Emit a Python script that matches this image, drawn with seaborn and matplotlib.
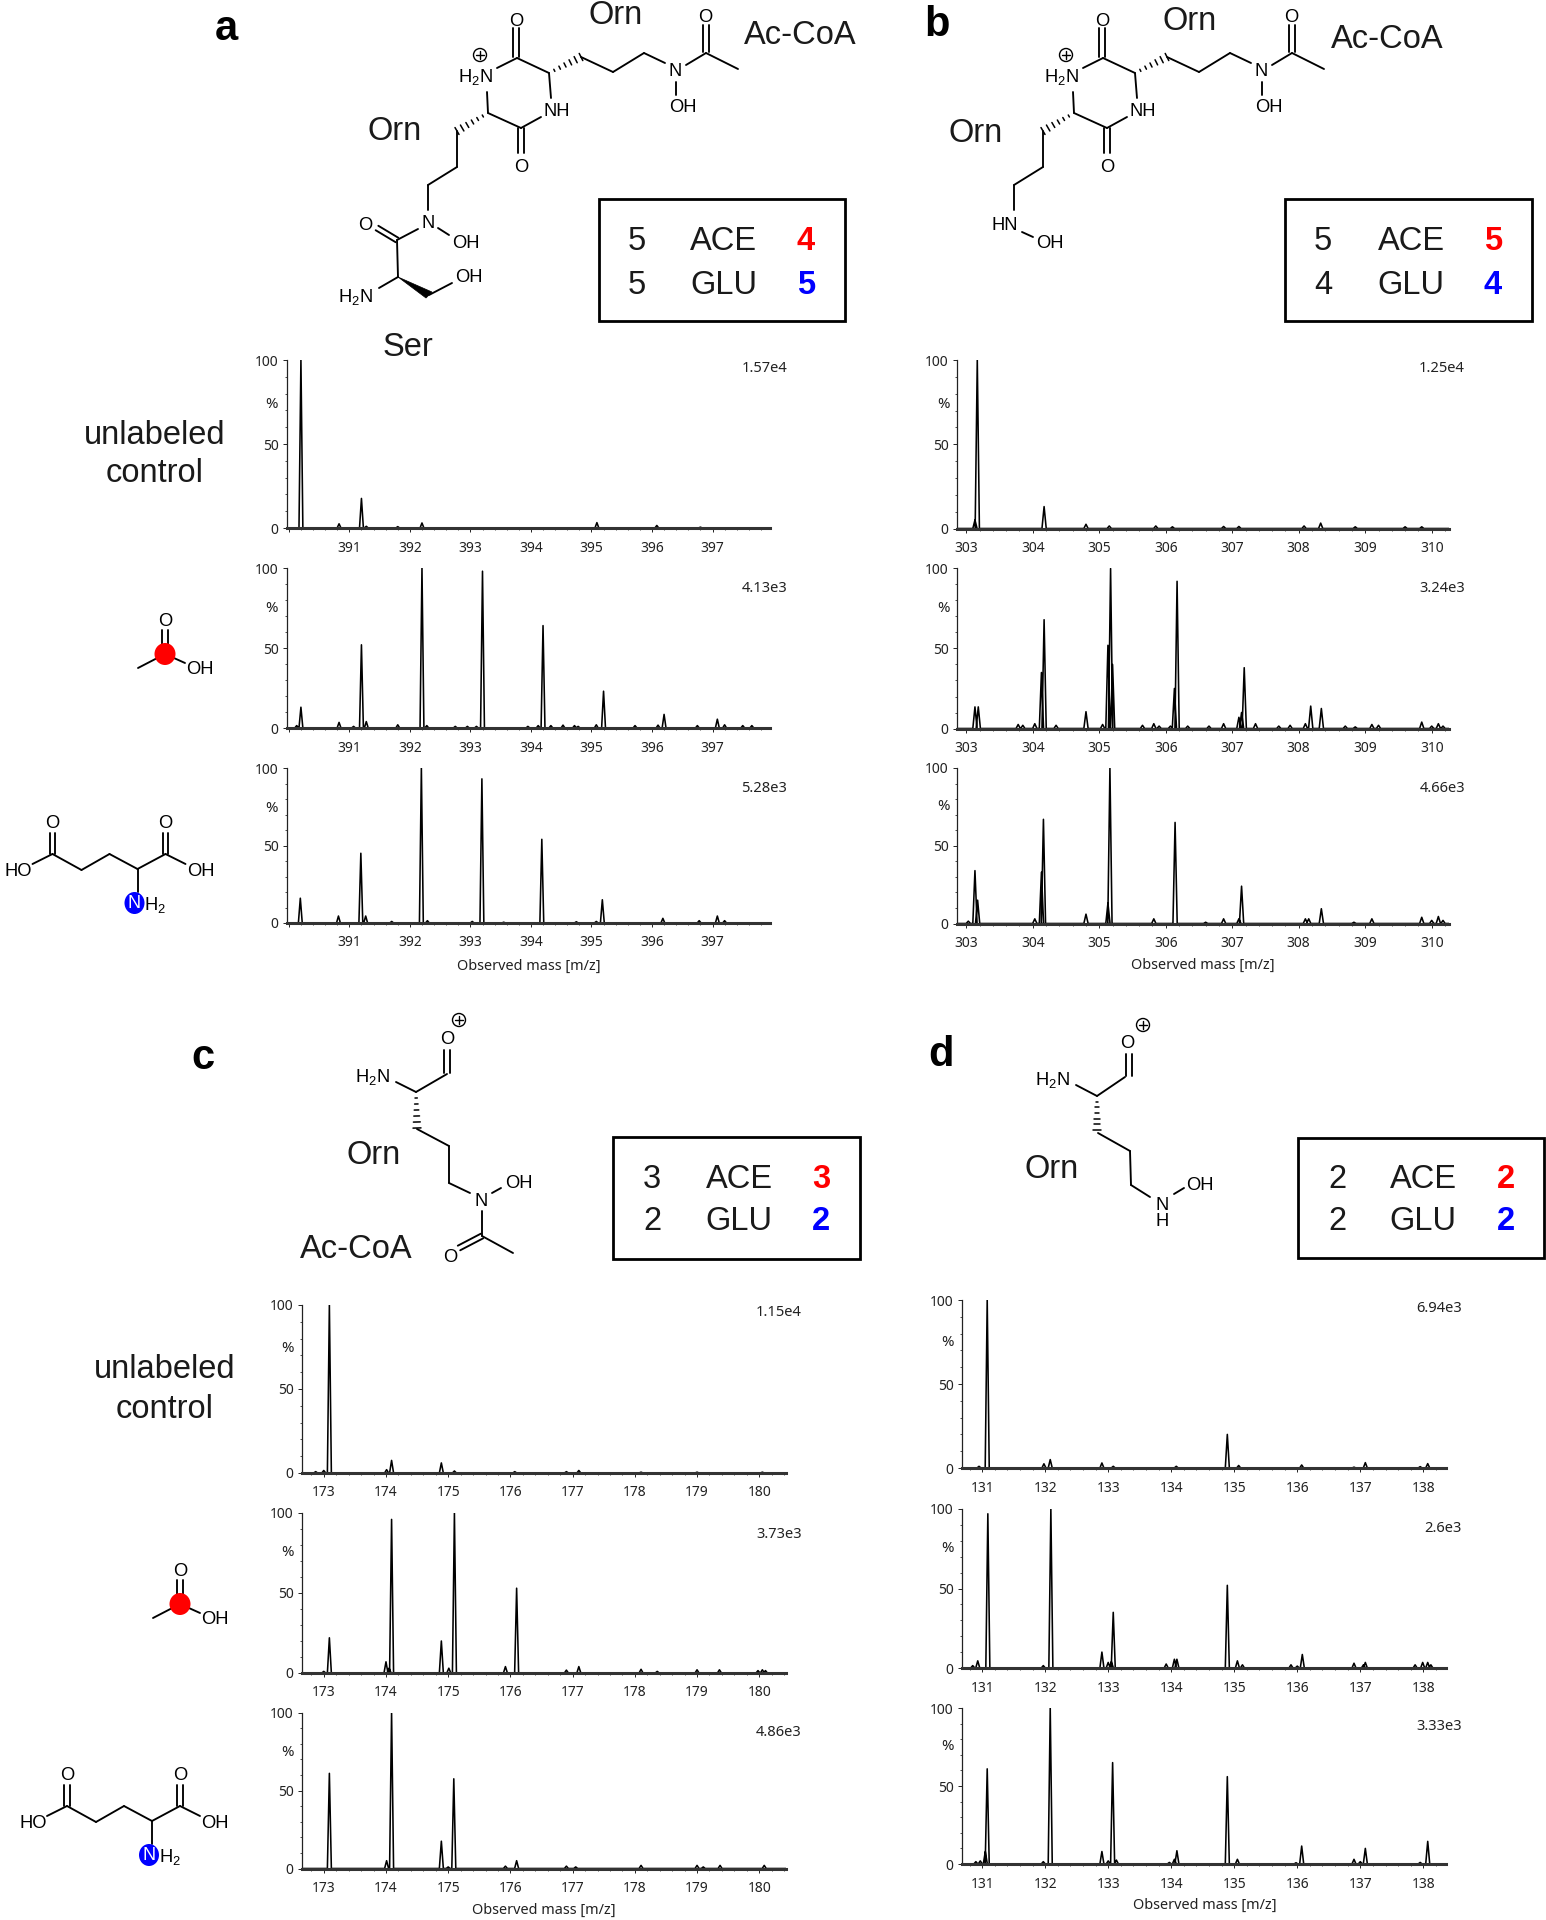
# Labelling spectra with structures, four panels
import numpy as np
import seaborn as sns
import matplotlib.pyplot as plt
from matplotlib.patches import Ellipse, Polygon, Rectangle
from matplotlib.ticker import MultipleLocator

W, H = 1546, 1920

# peak positions (m/z) and intensities (%)
a1_mz = [390.2, 390.83, 391.2, 391.28, 391.8, 392.2, 395.09, 396.08, 396.8]
a1_int = [100, 2.5, 17.6, 1, 0.8, 3, 3.2, 1.5, 0.5]
a2_mz = [390.13, 390.2, 390.83, 391.07, 391.2, 391.28, 391.8, 392.2, 392.28, 392.75, 392.95, 393.1, 393.2, 393.95,
         394.12, 394.2, 394.33, 394.53, 394.72, 394.78, 395.08, 395.2, 395.72, 396.1, 396.2, 396.75, 397.08, 397.2,
         397.5, 397.65]
a2_int = [1.5, 13, 3.5, 1, 52, 4, 2, 100, 1.5, 1, 1, 1, 98, 1, 1.5, 64, 1.5, 1.8, 1.5, 1, 2, 23, 1.5, 1.8, 8.5, 1.5,
          5.5, 2, 1.5, 1.5]
a3_mz = [390.19, 390.82, 391.19, 391.27, 391.7, 392.19, 392.29, 393.03, 393.19, 393.55, 394.18, 394.75, 395.08,
         395.18, 396.18, 396.78, 397.08, 397.2]
a3_int = [16, 4.5, 45, 4.5, 1, 100, 1.5, 1, 93, 0.5, 54, 0.8, 1, 15, 3, 1.5, 4.5, 1.5]

b1_mz = [303.13, 303.165, 304.17, 304.8, 305.15, 305.85, 306.1, 306.87, 307.1, 308.08, 308.33, 308.85, 309.6, 309.85]
b1_int = [5, 100, 13, 2.5, 1.5, 1.5, 1, 1.2, 1.2, 1.5, 3.2, 1, 1, 1]
b2_mz = [303.13, 303.18, 303.78, 303.85, 304.03, 304.13, 304.17, 304.35, 304.8, 305.05, 305.13, 305.17, 305.2,
         305.65, 305.82, 305.9, 306.07, 306.13, 306.17, 306.33, 306.65, 306.87, 307.1, 307.14, 307.18, 307.35, 307.7,
         307.87, 308.1, 308.18, 308.34, 308.7, 308.85, 309.1, 309.2, 309.85, 310.0, 310.1, 310.17]
b2_int = [13.5, 13.5, 2.5, 2, 3, 35, 68, 2, 10.5, 2.5, 52, 100, 40, 2, 3, 1.5, 1.5, 25, 92, 1.5, 1.5, 3, 7, 10, 38, 3,
          1.5, 2, 3, 14, 12.5, 1.5, 1, 2.5, 2, 4, 1.5, 3, 1.5]
b3_mz = [303.03, 303.13, 303.17, 304.03, 304.13, 304.16, 304.8, 305.13, 305.16, 305.82, 306.14, 306.6, 306.87, 307.1,
         307.14, 308.1, 308.15, 308.34, 308.83, 309.1, 309.85, 310.0, 310.1, 310.17]
b3_int = [1.5, 34, 15, 3, 33, 67, 6, 13, 100, 3, 65, 0.8, 3, 3, 24, 3, 3, 9.5, 0.8, 3, 4, 2, 4.5, 2]

c1_mz = [172.87, 173.0, 173.09, 174.01, 174.09, 174.89, 175.1, 176.07, 176.9, 177.1, 178.1, 179.0, 180.05]
c1_int = [0.8, 1.5, 100, 2, 7.5, 6, 1.2, 0.8, 0.8, 1.5, 0.5, 0.5, 0.5]
c2_mz = [173.0, 173.09, 174.0, 174.05, 174.09, 174.89, 175.01, 175.1, 175.92, 176.1, 176.9, 177.1, 178.1, 178.36,
         179.0, 179.36, 179.98, 180.05, 180.1]
c2_int = [1, 22, 7, 3, 96, 20, 3, 100, 4, 53, 1.8, 4, 2.3, 1, 2, 2, 1.5, 2, 1.5]
c3_mz = [173.09, 174.01, 174.09, 174.89, 175.0, 175.09, 175.92, 176.1, 176.9, 177.05, 178.1, 179.0, 179.1, 179.37,
         180.08]
c3_int = [61, 5, 100, 17.5, 1, 57.5, 1.5, 5, 1.5, 1, 2, 2, 1, 2, 2]

d1_mz = [130.95, 131.08, 131.98, 132.08, 132.9, 133.08, 134.08, 134.89, 135.07, 136.07, 136.9, 137.08, 137.95, 138.07]
d1_int = [1, 100, 2.5, 5, 3, 1, 1, 20, 1.5, 1.8, 0.5, 3.2, 0.8, 2.6]
d2_mz = [130.85, 130.93, 131.09, 131.97, 132.09, 132.9, 133.0, 133.05, 133.08, 133.92, 134.05, 134.09, 134.89, 135.05,
         135.13, 135.9, 136.0, 136.08, 136.9, 137.05, 137.08, 137.87, 137.99, 138.07, 138.12]
d2_int = [1.5, 4.5, 97, 1.5, 100, 10, 3.5, 4, 35, 2.5, 5.5, 5.5, 52, 4.5, 2, 2, 1.2, 8.5, 3, 2, 3.5, 2, 3.5, 3.5, 2]
d3_mz = [130.9, 130.97, 131.05, 131.08, 131.97, 132.08, 132.9, 133.0, 133.07, 133.13, 133.97, 134.05, 134.09, 134.89,
         135.05, 135.98, 136.07, 136.9, 137.0, 137.08, 137.95, 138.07]
d3_int = [1.5, 2, 8, 61, 1.5, 100, 8, 2, 65, 2.5, 1, 3, 8.5, 56, 3, 0.8, 11.5, 3, 1.5, 10, 1, 14.5]

a_scale = ['1.57e4', '4.13e3', '5.28e3']
b_scale = ['1.25e4', '3.24e3', '4.66e3']
c_scale = ['1.15e4', '3.73e3', '4.86e3']
d_scale = ['6.94e3', '2.6e3', '3.33e3']

sns.set_theme(style='ticks')
plt.rcParams['font.family'] = ['Noto Sans', 'DejaVu Sans']
plt.rcParams['mathtext.default'] = 'regular'

fig = plt.figure(figsize=(W / 100, H / 100), dpi=100, facecolor='white')


def spectrum(box, xlim, first, mz, inten, scale, label_x, label_y, pct_x, pct_y, xlabel=None):
    left, right, top, bottom = box
    ax = fig.add_axes([left / W, 1 - bottom / H, (right - left) / W, (bottom - top) / H])
    xs, ys = [xlim[0]], [0]
    for m, v in zip(mz, inten):
        xs += [m - 0.032, m, m + 0.032]
        ys += [0, v, 0]
    xs.append(xlim[1])
    ys.append(0)
    sns.lineplot(x=xs, y=ys, estimator=None, sort=False, color='black', lw=1.15, ax=ax)
    ax.set_xlim(*xlim)
    ax.set_ylim(0, 100)
    ax.patch.set_alpha(0)
    sns.despine(ax=ax)
    ax.spines['bottom'].set_linewidth(2.2)
    ax.spines['bottom'].set_color('#333333')
    ax.spines['left'].set_linewidth(0.9)
    ax.spines['left'].set_color('#222222')
    ticks = list(range(first, first + 8))
    ax.set_xticks(ticks)
    ax.set_xticklabels(['' if t == 390 else str(t) for t in ticks])
    ax.xaxis.set_minor_locator(MultipleLocator(0.2))
    ax.set_yticks([0, 50, 100])
    ax.yaxis.set_minor_locator(MultipleLocator(10))
    ax.tick_params(axis='both', which='major', length=3, width=0.7, labelsize=10, colors='#222222', pad=3)
    ax.tick_params(axis='x', which='major', pad=6)
    ax.tick_params(axis='both', which='minor', length=1.5, width=0.6, colors='#333333')
    ax.set_xlabel('')
    ax.set_ylabel('')
    over.text(label_x, label_y + 1, scale, ha='right', va='center', fontsize=10.6, color='#222222')
    over.text(pct_x, pct_y + 1, '%', ha='center', va='center', fontsize=10.8, color='#222222')
    if xlabel is not None:
        over.text(xlabel[0], xlabel[1], 'Observed mass [m/z]', ha='center', va='center', fontsize=10.4, color='#222222')


# overlay in picture pixels for the drawn structures and big labels
over = fig.add_axes([0, 0, 1, 1], zorder=5)
over.set_xlim(0, W)
over.set_ylim(H, 0)
over.axis('off')
over.patch.set_alpha(0)

SANS = 'Liberation Sans'


def bonds(points):
    for (x0, y0), (x1, y1) in points:
        over.plot([x0, x1], [y0, y1], color='black', lw=1.35, solid_capstyle='round')


def double(x0, y0, x1, y1, gap=2.6):
    n = np.array([y1 - y0, x0 - x1], float)
    n = n / np.hypot(*n) * gap
    bonds([((x0 + n[0], y0 + n[1]), (x1 + n[0], y1 + n[1])), ((x0 - n[0], y0 - n[1]), (x1 - n[0], y1 - n[1]))])


def hashed(x0, y0, x1, y1, steps=6):
    d = np.array([x1 - x0, y1 - y0], float)
    n = np.array([-d[1], d[0]]) / np.hypot(*d)
    for i in range(1, steps + 1):
        f = i / steps
        c = np.array([x0, y0]) + d * f
        half = 0.6 + 3.4 * f
        over.plot([c[0] - n[0] * half, c[0] + n[0] * half], [c[1] - n[1] * half, c[1] + n[1] * half], color='black', lw=1.1)


def atoms(items, size=13.2):
    for x, y, s in items:
        over.text(x, y + 1, s, ha='center', va='center', fontsize=size, family=SANS, color='black')


def big(items):
    for x, y, s in items:
        over.text(x, y + 3, s, ha='center', va='center', fontsize=23.5, family=SANS, color='#1a1a1a', linespacing=1.0)


def panel_letter(x, y, s):
    over.text(x, y, s, ha='center', va='center', fontsize=30, family=SANS, weight='bold', color='black')


def box(x0, x1, y0, y1, tx, rows):
    over.add_patch(Rectangle((x0, y0), x1 - x0, y1 - y0, fill=False, ec='black', lw=2.0))
    for y, (n, name, v, col) in zip(rows[0], rows[1]):
        big([(tx[0], y, n), (tx[1], y, name)])
        over.text(tx[2], y + 3, v, ha='center', va='center', fontsize=23.5, family=SANS, weight='bold', color=col)


def plus(x, y):
    over.add_patch(Ellipse((x, y), 13, 13, fill=False, ec='black', lw=1.0))
    over.plot([x - 4, x + 4], [y, y], color='black', lw=1.0)
    over.plot([x, x], [y - 4, y + 4], color='black', lw=1.0)


def acetate(dx, dy):
    bonds([((dx - 27, dy + 14), (dx, dy)), ((dx, dy), (dx + 20, dy + 9))])
    double(dx, dy - 10, dx, dy - 24)
    over.add_patch(Ellipse((dx, dy), 21, 22, fc='#ff0000', ec='none', zorder=4))
    atoms([(dx, dy - 33, 'O'), (dx + 35, dy + 15, 'OH')])


def glutamate(dx, dy):
    bonds([((dx - 20, dy + 10), (dx, dy)), ((dx, dy), (dx + 29, dy + 16)), ((dx + 29, dy + 16), (dx + 57, dy)),
           ((dx + 57, dy), (dx + 85, dy + 15)), ((dx + 85, dy + 15), (dx + 113, dy)), ((dx + 113, dy), (dx + 133, dy + 10)),
           ((dx + 85, dy + 15), (dx + 85, dy + 38))])
    double(dx, dy, dx, dy - 21)
    double(dx + 113, dy, dx + 113, dy - 21)
    over.add_patch(Ellipse((dx + 82, dy + 49), 20, 22, fc='#0000ff', ec='none', zorder=4))
    over.text(dx + 82, dy + 49, 'N', ha='center', va='center', fontsize=13, family=SANS, color='white', zorder=6)
    atoms([(dx, dy - 31, 'O'), (dx + 113, dy - 31, 'O'), (dx - 34, dy + 16, 'HO'), (dx + 148, dy + 16, 'OH'),
           (dx + 103, dy + 50, r'H$_2$')])


def ring(dx):
    # shared diketopiperazine core of panels a and b
    bonds([((dx + 517, 58), (dx + 497, 68)), ((dx + 517, 58), (dx + 549, 73)), ((dx + 581, 57), (dx + 613, 72)),
           ((dx + 613, 72), (dx + 644, 53)), ((dx + 644, 53), (dx + 665, 63)), ((dx + 676, 82), (dx + 676, 95)),
           ((dx + 686, 65), (dx + 706, 53)), ((dx + 706, 53), (dx + 738, 69)), ((dx + 549, 73), (dx + 551, 98)),
           ((dx + 541, 117), (dx + 521, 128)), ((dx + 521, 128), (dx + 488, 113)), ((dx + 488, 113), (dx + 487, 92)),
           ((dx + 457, 131), (dx + 457, 167)), ((dx + 457, 167), (dx + 428, 185)), ((dx + 428, 185), (dx + 428, 210))])
    double(dx + 516, 28, dx + 516, 57)
    double(dx + 706, 52, dx + 706, 25)
    double(dx + 521, 128, dx + 521, 153)
    hashed(dx + 549, 73, dx + 581, 57)
    hashed(dx + 488, 113, dx + 457, 131)
    plus(dx + 480, 55)
    atoms([(dx + 516, 21, 'O'), (dx + 475, 76, r'H$_2$N'), (dx + 675, 71, 'N'), (dx + 683, 107, 'OH'), (dx + 705, 16, 'O'),
           (dx + 557, 110, 'NH'), (dx + 521, 166, 'O')])


# panel a
panel_letter(226, 29, 'a')
ring(0)
bonds([((438, 228), (449, 235)), ((418, 229), (397, 240)), ((397, 240), (398, 277)), ((398, 277), (379, 288)),
       ((429, 295), (452, 283))])
double(397, 240, 377, 228)
over.add_patch(Polygon([(398, 277), (426, 298), (432, 292)], fc='black', ec='black', lw=0.5))
atoms([(428, 222, 'N'), (466, 242, 'OH'), (365, 224, 'O'), (355, 296, r'H$_2$N'), (469, 277, 'OH')])
big([(616, 13, 'Orn'), (395, 128, 'Orn'), (408, 345, 'Ser'), (800, 33, 'Ac-CoA'), (155, 432, 'unlabeled'),
     (155, 471, 'control')])
box(599, 845, 199, 321, (637, 724, 806), ((239, 282), (('5', 'ACE', '4', '#ff0000'), ('5', 'GLU', '5', '#0000ff'))))
acetate(165, 654)
glutamate(52.5, 854)
a_box = [(360, 528), (568, 728), (768, 923)]
for (t, b), mz, v, s, ly, py in zip(a_box, [a1_mz, a2_mz, a3_mz], [a1_int, a2_int, a3_int], a_scale, [368, 588, 788],
                                    [403, 608, 807]):
    spectrum((287, 770, t, b), (389.97, 397.95), 390, mz, v, s, 787, ly, 272, py, (529, 966) if b == 923 else None)

# panel b
panel_letter(937, 25, 'b')
ring(586)
bonds([((1022, 232), (1033, 237))])
atoms([(1005, 224, 'HN'), (1050, 243, 'OH')])
big([(1190, 19, 'Orn'), (976, 131, 'Orn'), (1387, 36, 'Ac-CoA')])
box(1285, 1532, 199, 321, (1323, 1411, 1493), ((239, 282), (('5', 'ACE', '5', '#ff0000'), ('4', 'GLU', '4', '#0000ff'))))
b_box = [(360, 528.5), (568.5, 728.5), (768, 923.5)]
for (t, b), mz, v, s, ly, py in zip(b_box, [b1_mz, b2_mz, b3_mz], [b1_int, b2_int, b3_int], b_scale, [368, 588, 788],
                                    [403, 608, 806]):
    spectrum((957, 1449, t, b), (302.86, 310.26), 303, mz, v, s, 1465, ly, 943, py, (1203, 965) if b == 923.5 else None)

# panel c
panel_letter(203, 1058, 'c')
plus(459, 1020)
double(447, 1050, 447, 1073)
bonds([((447, 1074), (416, 1092)), ((416, 1092), (396, 1082)), ((417, 1129), (449, 1146)), ((449, 1146), (449, 1183)),
       ((449, 1183), (470, 1193)), ((492, 1193), (501, 1188)), ((482, 1211), (482, 1236)), ((482, 1236), (513, 1253))])
double(482, 1236, 459, 1248)
hashed(416, 1092, 417, 1128)
atoms([(447, 1038, 'O'), (372, 1076, r'H$_2$N'), (481, 1200, 'N'), (519, 1182, 'OH'), (450, 1256, 'O')])
big([(374, 1152, 'Orn'), (356, 1247, 'Ac-CoA'), (165, 1367, 'unlabeled'), (165, 1406, 'control')])
box(613, 860, 1137, 1259, (652, 739, 821), ((1177, 1219), (('3', 'ACE', '3', '#ff0000'), ('2', 'GLU', '2', '#0000ff'))))
acetate(180, 1604)
glutamate(67, 1806)
c_box = [(1305, 1473), (1513, 1673), (1712.5, 1868.5)]
for (t, b), mz, v, s, ly, py in zip(c_box, [c1_mz, c2_mz, c3_mz], [c1_int, c2_int, c3_int], c_scale, [1312, 1533, 1732],
                                    [1348, 1552, 1751]):
    spectrum((302, 786, t, b), (172.65, 180.43), 173, mz, v, s, 802, ly, 287, py, (544, 1910) if b == 1868.5 else None)

# panel d
panel_letter(941, 1055, 'd')
plus(1143, 1025)
double(1129, 1054, 1129, 1076)
bonds([((1125, 1077), (1097, 1096)), ((1097, 1096), (1076, 1085)), ((1098, 1133), (1130, 1151)),
       ((1130, 1151), (1131, 1185)), ((1131, 1185), (1150, 1197)), ((1174, 1194), (1184, 1188))])
hashed(1097, 1096, 1097, 1130)
atoms([(1127, 1042, 'O'), (1052, 1079, r'H$_2$N'), (1162, 1204, 'N'), (1162, 1220, 'H'), (1200, 1185, 'OH')])
big([(1052, 1167, 'Orn')])
box(1298, 1544, 1138, 1258, (1337, 1423, 1506), ((1176, 1219), (('2', 'ACE', '2', '#ff0000'), ('2', 'GLU', '2', '#0000ff'))))
d_box = [(1300, 1468), (1509, 1668), (1708, 1864)]
for (t, b), mz, v, s, ly, py in zip(d_box, [d1_mz, d2_mz, d3_mz], [d1_int, d2_int, d3_int], d_scale, [1307, 1527, 1726],
                                    [1342, 1548, 1746]):
    spectrum((962, 1446, t, b), (130.68, 138.36), 131, mz, v, s, 1462, ly, 947, py, (1205, 1905) if b == 1864 else None)

fig.savefig('out.png', dpi=100, facecolor='white')
